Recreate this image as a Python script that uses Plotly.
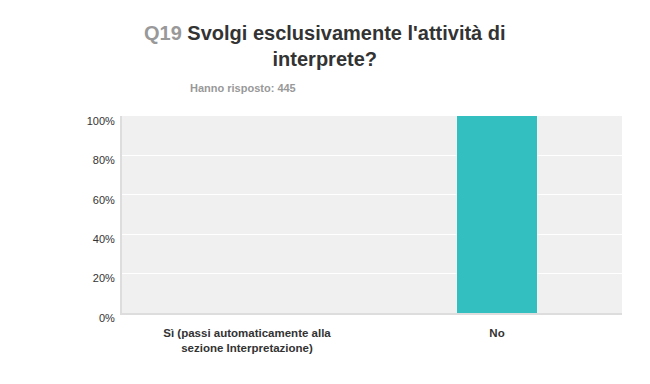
import plotly.graph_objects as go

categories = ["Sì (passi automaticamente alla<br>sezione Interpretazione)", "No"]
values = [0, 100]
tick_vals = [0, 20, 40, 60, 80, 100]
tick_text = ["0%", "20%", "40%", "60%", "80%", "100%"]
title_q = "Q19"
title_text = "Svolgi esclusivamente l'attività di<br>interprete?"
subtitle = "Hanno risposto: 445"

FONT = "Arial, 'Liberation Sans', sans-serif"

# page body has an 8px margin; compensate so the plot lands where the reference has it
OFF = 8
L, R, T, B = 122 - OFF, 28 + OFF, 116 - OFF, 71 + OFF
W, H = 650, 384
pw, ph = W - L - R, H - T - B


def px(x):
    return (x - OFF - L) / pw


def py(y):
    return (H - (y - OFF) - B) / ph


fig = go.Figure(go.Bar(
    x=categories, y=values,
    marker=dict(color="#33BEBF", line=dict(width=0)),
    hoverinfo="skip",
))

fig.update_layout(
    width=W, height=H,
    margin=dict(l=L, r=R, t=T, b=B, autoexpand=False),
    paper_bgcolor="white", plot_bgcolor="#F0F0F0",
    bargap=0.68,
    showlegend=False,
    font=dict(family=FONT, size=11, color="#333333"),
    xaxis=dict(
        showgrid=False, showline=True, linecolor="#DDDDDD", linewidth=2,
        ticks="", ticklabelstandoff=8,
        tickfont=dict(family=FONT, size=11.5, color="#333333", weight="bold"),
        fixedrange=True,
    ),
    yaxis=dict(
        range=[0, 100], tickvals=tick_vals, ticktext=tick_text,
        showgrid=True, gridcolor="white", gridwidth=1,
        showline=True, linecolor="#DDDDDD", linewidth=2,
        zeroline=False, ticks="", ticklabelstandoff=3, ticklabelshift=5,
        tickfont=dict(family=FONT, size=11, color="#333333"),
        fixedrange=True,
    ),
    annotations=[
        dict(
            text=f"<span style='color:#999999'>{title_q}</span> {title_text}",
            x=px(325), y=py(20), xref="paper", yref="paper",
            showarrow=False, align="center", xanchor="center", yanchor="top",
            font=dict(family=FONT, size=20, color="#333333", weight="bold"),
        ),
        dict(
            text=subtitle,
            x=px(188), y=py(80), xref="paper", yref="paper",
            showarrow=False, xanchor="left", yanchor="top",
            font=dict(family=FONT, size=11, color="#999999", weight="bold"),
        ),
    ],
)

fig.write_html("out.html")
